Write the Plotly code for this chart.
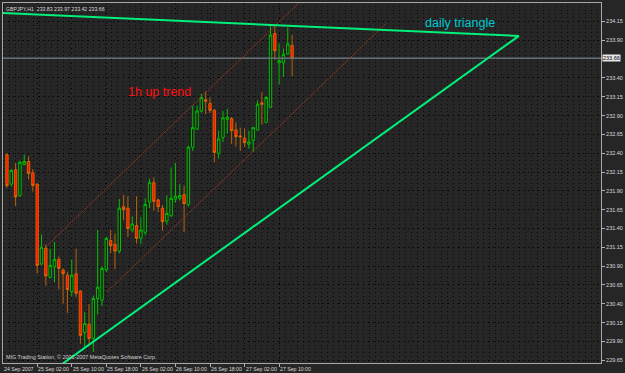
import plotly.graph_objects as go
import pandas as pd

# ---- data (GBPJPY, H1) ----
start_time = "2007-09-24 19:00"
opens = [232.38, 231.99, 232.18, 231.84, 232.25, 232.29, 232.14, 231.99, 230.93, 231.14,
         230.75, 230.89, 230.99, 230.85, 230.78, 230.56, 230.80, 230.57, 230.02, 230.13,
         229.94, 230.47, 230.45, 230.85, 231.24, 231.19, 231.10, 231.69, 231.67, 231.38,
         231.44, 231.27, 231.35, 231.75, 232.01, 231.78, 231.67, 231.50, 231.57, 231.79,
         231.80, 231.85, 231.72, 232.48, 232.72, 232.96, 233.11, 233.06, 232.97, 232.40,
         232.61, 232.85, 232.86, 232.71, 232.63, 232.60, 232.52, 232.57, 232.71, 233.07,
         232.81, 233.01, 233.99, 233.60, 233.60, 233.72, 233.83]
highs = [232.40, 232.19, 232.27, 232.30, 232.38, 232.36, 232.19, 232.00, 231.32, 231.19,
         231.13, 231.22, 231.03, 230.87, 230.82, 230.99, 231.13, 230.58, 230.29, 230.40,
         230.51, 231.38, 230.90, 231.29, 231.38, 231.33, 231.79, 231.85, 231.83, 231.56,
         231.83, 231.55, 231.80, 232.06, 232.08, 231.80, 231.71, 231.84, 232.21, 232.27,
         231.99, 231.97, 232.50, 233.03, 233.03, 233.19, 233.22, 233.14, 232.99, 232.70,
         232.96, 232.99, 232.88, 232.81, 232.74, 232.73, 232.70, 232.75, 233.10, 233.21,
         233.16, 234.10, 234.10, 233.86, 233.79, 234.07, 233.97]
lows = [231.94, 231.96, 231.70, 231.82, 232.24, 232.05, 231.89, 230.80, 230.91, 230.64,
        230.74, 230.69, 230.59, 230.40, 230.28, 230.50, 230.49, 229.87, 229.81, 229.87,
        229.76, 230.26, 230.37, 230.82, 231.07, 230.86, 231.07, 231.51, 231.29, 231.35,
        231.20, 231.19, 231.31, 231.67, 231.64, 231.62, 231.37, 231.45, 231.55, 231.74,
        231.77, 231.35, 231.69, 232.43, 232.71, 232.94, 232.92, 232.93, 232.28, 232.33,
        232.55, 232.66, 232.52, 232.49, 232.43, 232.48, 232.46, 232.42, 232.70, 232.78,
        232.80, 233.00, 233.64, 233.31, 233.41, 233.71, 233.42]
closes = [231.97, 232.17, 231.82, 232.28, 232.29, 232.13, 231.97, 230.91, 231.15, 230.77,
          230.91, 230.99, 230.87, 230.80, 230.59, 230.78, 230.54, 229.98, 230.14, 229.94,
          230.47, 230.62, 230.87, 231.27, 231.17, 231.10, 231.67, 231.65, 231.40, 231.46,
          231.27, 231.38, 231.72, 232.01, 231.76, 231.69, 231.49, 231.60, 231.80, 231.83,
          231.84, 231.73, 232.48, 232.74, 232.96, 233.14, 233.09, 232.97, 232.41, 232.59,
          232.87, 232.88, 232.70, 232.62, 232.62, 232.54, 232.55, 232.74, 233.05, 233.05,
          233.14, 233.97, 233.76, 233.63, 233.71, 233.85, 233.66]

# price axis ticks
price_ticks = [229.65, 229.90, 230.15, 230.40, 230.65, 230.90, 231.15, 231.40, 231.65,
               231.90, 232.15, 232.40, 232.65, 232.90, 233.15, 233.40, 233.90, 234.15]
bid_price = 233.66

# time axis labels
time_label_times = ["2007-09-25 02:00", "2007-09-25 10:00", "2007-09-25 18:00",
                    "2007-09-26 02:00", "2007-09-26 10:00", "2007-09-26 18:00",
                    "2007-09-27 02:00", "2007-09-27 10:00"]
time_label_texts = ["25 Sep 02:00", "25 Sep 10:00", "25 Sep 18:00", "26 Sep 02:00",
                    "26 Sep 10:00", "26 Sep 18:00", "27 Sep 02:00", "27 Sep 10:00"]
first_label = "24 Sep 2007"

# drawn objects: (time, price) endpoints
tri_upper_t = ["2007-09-24 14:00", "2007-09-29 17:30"]
tri_upper_p = [234.271, 233.958]
tri_lower_t = ["2007-09-25 05:06", "2007-09-29 17:30"]
tri_lower_p = [229.49, 233.958]
chan_upper_t = ["2007-09-25 03:58", "2007-09-27 21:30"]
chan_upper_p = [231.154, 234.78]
chan_lower_t = ["2007-09-25 18:09", "2007-09-28 10:54"]
chan_lower_p = [230.558, 234.134]

x_range = ["2007-09-24 18:05", "2007-09-30 12:30"]
y_range = [229.614, 234.395]

header = "GBPJPY,H1  233.83 233.97 233.42 233.66"
copyright_txt = "MIG Trading Station, © 2001-2007 MetaQuotes Software Corp."

# ---- figure ----
times = pd.date_range(start_time, periods=len(opens), freq="h")
BG = "#262626"
FONT = "Liberation Sans, Arial, sans-serif"

fig = go.Figure()

fig.add_trace(go.Scatter(x=[x_range[0], x_range[1]], y=[bid_price, bid_price], mode="lines",
                         line=dict(color="#667078", width=1.5), hoverinfo="skip"))

fig.add_trace(go.Scatter(x=chan_upper_t, y=chan_upper_p, mode="lines",
                         line=dict(color="#983a1c", width=1, dash="2px,1px"), hoverinfo="skip"))
fig.add_trace(go.Scatter(x=chan_lower_t, y=chan_lower_p, mode="lines",
                         line=dict(color="#983a1c", width=1, dash="2px,1px"), hoverinfo="skip"))

fig.add_trace(go.Candlestick(
    x=times, open=opens, high=highs, low=lows, close=closes,
    increasing=dict(line=dict(color="#00c000", width=1), fillcolor="#151515"),
    decreasing=dict(line=dict(color="#e07400", width=0.8), fillcolor="#ff1400"),
    whiskerwidth=0, hoverinfo="skip"))

fig.add_trace(go.Scatter(x=tri_upper_t, y=tri_upper_p, mode="lines",
                         line=dict(color="#00f07a", width=2), hoverinfo="skip"))
fig.add_trace(go.Scatter(x=tri_lower_t, y=tri_lower_p, mode="lines",
                         line=dict(color="#00f07a", width=2), hoverinfo="skip"))

annotations = []
for t, txt in zip(time_label_times, time_label_texts):
    annotations.append(dict(x=t, xref="x", y=0, yref="paper", text=txt, showarrow=False,
                            xanchor="left", yanchor="top", yshift=-1, xshift=-1,
                            font=dict(size=5.2, color="#d8d8d8", family=FONT)))
annotations.append(dict(x=0, xref="paper", y=0, yref="paper", text=first_label, showarrow=False,
                        xanchor="left", yanchor="top", yshift=-1, xshift=-1,
                        font=dict(size=5.2, color="#d8d8d8", family=FONT)))
annotations.append(dict(x=1, xref="paper", y=bid_price, yref="y", text=str(bid_price),
                        showarrow=False, xanchor="left", xshift=1, bgcolor="#e8e8e8",
                        borderpad=0, font=dict(size=5.5, color="#000000", family=FONT)))
annotations.append(dict(x=0, xref="paper", y=1, yref="paper", text=header, showarrow=False,
                        xanchor="left", yanchor="top", xshift=1, yshift=-1,
                        font=dict(size=5.2, color="#d8d8d8", family=FONT)))
annotations.append(dict(x=0, xref="paper", y=0, yref="paper", text=copyright_txt, showarrow=False,
                        xanchor="left", yanchor="bottom", xshift=1, yshift=1,
                        font=dict(size=5.4, color="#d0d0d0", family=FONT)))
annotations.append(dict(x="2007-09-26 06:20", xref="x", y=233.216, yref="y", text="1h up trend",
                        showarrow=False, xanchor="center",
                        font=dict(size=12.5, color="#ff1010", family=FONT)))
annotations.append(dict(x="2007-09-29 03:50", xref="x", y=234.13, yref="y", text="daily triangle",
                        showarrow=False, xanchor="center",
                        font=dict(size=12.5, color="#00c8d4", family=FONT)))

fig.update_layout(
    width=625, height=373,
    margin=dict(l=2, r=21, t=2, b=10),
    paper_bgcolor=BG, plot_bgcolor=BG,
    showlegend=False,
    boxgap=0.2,
    annotations=annotations,
    xaxis=dict(type="date", range=x_range, rangeslider=dict(visible=False),
               tickvals=time_label_times, showticklabels=False,
               ticks="outside", ticklen=3, tickcolor="#b0b0b0",
               showgrid=True, gridcolor="#000000", griddash="1px,4px", gridwidth=1,
               showline=True, linecolor="#a8a8a8", linewidth=1, mirror=True,
               zeroline=False, fixedrange=True),
    yaxis=dict(range=y_range, side="right", tickvals=price_ticks,
               ticktext=[f"{v:.2f}" for v in price_ticks],
               ticks="outside", ticklen=3, tickcolor="#b0b0b0",
               tickfont=dict(size=5.5, color="#d8d8d8", family=FONT),
               showgrid=True, gridcolor="#000000", griddash="1px,4px", gridwidth=1,
               minor=dict(dtick=0.05, showgrid=True, gridcolor="#080808",
                          griddash="1px,5px", gridwidth=1),
               showline=True, linecolor="#a8a8a8", linewidth=1, mirror=True,
               zeroline=False, fixedrange=True),
)

fig.write_html("out.html")
